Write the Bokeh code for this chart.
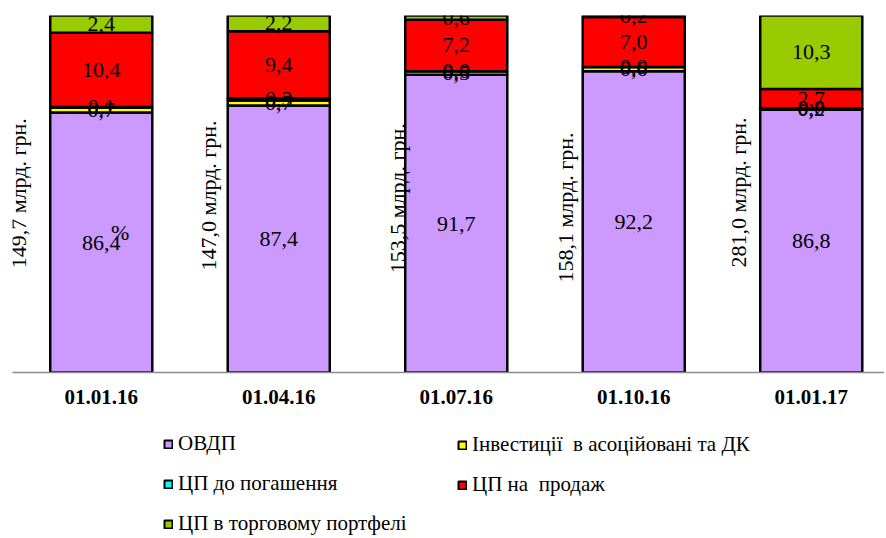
import numpy as np
from bokeh.plotting import figure
from bokeh.layouts import column
from bokeh.models import Range1d, ColumnDataSource, Legend, LegendItem
from bokeh.core.properties import value
from bokeh.embed import file_html
from bokeh.resources import INLINE

# ---- data ----
dates = ["01.01.16", "01.04.16", "01.07.16", "01.10.16", "01.01.17"]
totals = ["149,7", "147,0", "153,5", "158,1", "281,0"]
ovdp = [86.4, 87.4, 91.7, 92.2, 86.8]
invest = [0.7, 0.7, 0.5, 0.6, 0.2]
hold = [0.1, 0.3, 0.0, 0.0, 0.0]
sale = [10.4, 9.4, 7.2, 7.0, 2.7]
trade = [2.4, 2.2, 0.6, 0.2, 10.3]

names = ["ОВДП", "Інвестиції  в асоційовані та ДК", "ЦП до погашення",
         "ЦП на  продаж", "ЦП в торговому портфелі"]
keys = ["ovdp", "invest", "hold", "sale", "trade"]
colors = ["#CC99FF", "#FFFF00", "#00FFFF", "#FF0000", "#99CC00"]

# ---- layout-only tweaks (pixels / positions) ----
Y_MIN, Y_MAX = 50, 100
total_dx_px = [-83, -70, -59, -68, -73]
total_y = [75.1, 74.8, 74.4, 73.1, 75.2]
FONT = "Liberation Serif, DejaVu Serif, serif"
BW = 0.575
W = 884

xs = list(range(len(dates)))
series = [ovdp, invest, hold, sale, trade]
source = ColumnDataSource(dict(x=xs, ovdp=ovdp, invest=invest, hold=hold, sale=sale, trade=trade))

p = figure(width=W, height=420, output_backend="svg", toolbar_location=None,
           x_range=Range1d(-0.5, -0.5 + (W - 12) / 177.5), y_range=Range1d(Y_MIN, Y_MAX),
           y_axis_location=None, min_border_left=12, min_border_right=0,
           min_border_top=15, min_border_bottom=48)
p.outline_line_color = None
p.xgrid.visible = False
p.ygrid.visible = False

rends = p.vbar_stack(keys, x="x", width=BW, color=colors, source=source,
                     line_color="black", line_width=2.5)

# data labels centered in the visible part of each segment
arr = np.array(series)
cum = np.cumsum(arr, axis=0)
lx, ly, lt = [], [], []
for s in range(arr.shape[0]):
    for i in range(arr.shape[1]):
        top = cum[s, i]
        bot = max(top - arr[s, i], Y_MIN)
        lx.append(xs[i])
        ly.append((top + bot) / 2)
        lt.append(f"{arr[s, i]:.1f}".replace(".", ","))
p.text(x=lx, y=ly, text=lt, text_align="center", text_baseline="middle",
       text_font=value(FONT), text_font_size="22px", text_color="black")

# stray percent sign as in the reference
p.text(x=[xs[0]], y=[69.6], text=["%"], x_offset=19, text_align="center",
       text_baseline="middle", text_font=value(FONT), text_font_size="22px")

# rotated totals
for i in xs:
    p.text(x=[xs[i]], y=[total_y[i]], text=[totals[i] + " млрд. грн."],
           x_offset=total_dx_px[i], angle=np.pi / 2, text_align="center",
           text_baseline="middle", text_font=value(FONT), text_font_size="22px",
           text_color="black")

# x axis
ax = p.xaxis[0]
ax.ticker = xs
ax.major_label_overrides = {i: d for i, d in enumerate(dates)}
ax.major_tick_line_color = None
ax.minor_tick_line_color = None
ax.axis_line_color = "#8C8C8C"
ax.axis_line_width = 1.5
ax.major_label_text_font = FONT
ax.major_label_text_font_style = "bold"
ax.major_label_text_font_size = "21px"
ax.major_label_text_color = "black"
ax.major_label_standoff = 11

# ---- legend panel ----
q = figure(width=W, height=118, output_backend="svg", toolbar_location=None,
           x_range=Range1d(0, W), y_range=Range1d(0, 118),
           x_axis_location=None, y_axis_location=None,
           min_border_left=0, min_border_right=0, min_border_top=0, min_border_bottom=0)
q.outline_line_color = None
q.xgrid.visible = False
q.ygrid.visible = False
# swatch renderers with non-drawable points; only their legend glyphs show
dummy = [q.vbar(x=[float("nan")], bottom=[float("nan")], top=[float("nan")], width=1,
                fill_color=c, line_color="black", line_width=2) for c in colors]

def make_legend(idx, loc):
    items = [LegendItem(label=names[k], renderers=[dummy[k]]) for k in idx]
    return Legend(items=items, location=loc, orientation="vertical",
                  label_text_font=FONT, label_text_font_size="21px",
                  label_text_color="black", glyph_width=10, glyph_height=10,
                  label_height=20, label_standoff=5, spacing=15, padding=0,
                  margin=0, border_line_alpha=0, background_fill_alpha=0)

q.add_layout(make_legend([0, 2, 4], (151, 2)), "center")
q.add_layout(make_legend([1, 3], (445, 41)), "center")

layout = column(p, q, spacing=0)
open("out.html", "w").write(file_html(layout, INLINE))
